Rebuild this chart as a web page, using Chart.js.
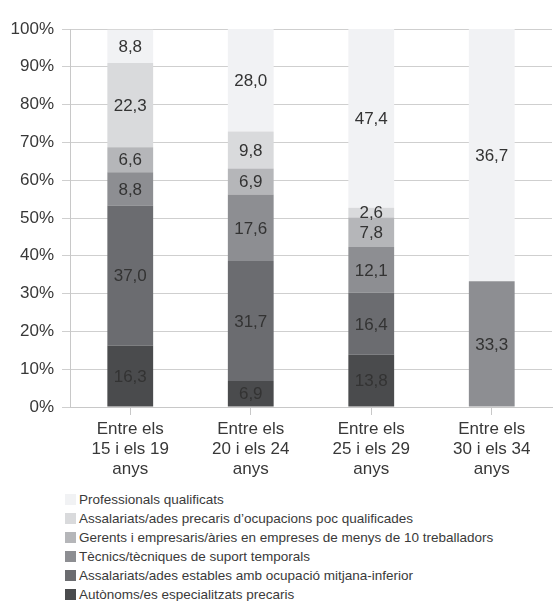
<!DOCTYPE html>
<html>
<head>
<meta charset="utf-8">
<script src="https://cdn.jsdelivr.net/npm/chart.js@4"></script>
<style>
  body { margin: 0; background: #fff; font-family: "Liberation Sans", Arial, sans-serif; }
  #wrap { position: relative; width: 553px; height: 601px; }
  #legend { position: absolute; left: 65px; top: 490px; font-size: 13.5px; color: #3a3a3a; }
  #legend div { height: 19px; line-height: 19px; white-space: nowrap; }
  #legend span { display: inline-block; width: 11px; height: 11px; margin-right: 3px; vertical-align: -1px; }
</style>
</head>
<body>
<div id="wrap">
  <canvas id="grafic" width="553" height="480"></canvas>
  <div id="legend"></div>
</div>
<script>
// categories (age groups), each label split in lines
const categories = [
    ['Entre els', '15 i els 19', 'anys'],
    ['Entre els', '20 i els 24', 'anys'],
    ['Entre els', '25 i els 29', 'anys'],
    ['Entre els', '30 i els 34', 'anys']
];

// series, from bottom to top of the stack
const autonoms = [16.3, 6.9, 13.8, null];
const estables = [37.0, 31.7, 16.4, null];
const tecnics = [8.8, 17.6, 12.1, 33.3];
const gerents = [6.6, 6.9, 7.8, null];
const precaris = [22.3, 9.8, 2.6, null];
const professionals = [8.8, 28.0, 47.4, 66.7];

// text printed on each segment (as in the original figure)
const textProfessionals = ['8,8', '28,0', '47,4', '36,7'];

const yTicks = [0, 10, 20, 30, 40, 50, 60, 70, 80, 90, 100];

const colors = ['#4a4b4d', '#6b6c70', '#8d8e92', '#b5b6b9', '#d9dadc', '#f1f2f4'];

function fmt(v) {
    return v.toFixed(1).replace('.', ',');
}

const series = [
    { label: 'Autònoms/es especialitzats precaris', data: autonoms },
    { label: 'Assalariats/ades estables amb ocupació mitjana-inferior', data: estables },
    { label: 'Tècnics/tècniques de suport temporals', data: tecnics },
    { label: 'Gerents i empresaris/àries en empreses de menys de 10 treballadors', data: gerents },
    { label: 'Assalariats/ades precaris d\u2019ocupacions poc qualificades', data: precaris },
    { label: 'Professionals qualificats', data: professionals, texts: textProfessionals }
];

// draws the value in the middle of every segment
const segmentLabels = {
    id: 'segmentLabels',
    afterDatasetsDraw(chart) {
        const ctx = chart.ctx;
        const area = chart.chartArea;
        ctx.save();
        ctx.font = '17px "Liberation Sans", Arial, sans-serif';
        ctx.fillStyle = '#333';
        ctx.textAlign = 'center';
        ctx.textBaseline = 'middle';
        chart.data.datasets.forEach((ds, i) => {
            const meta = chart.getDatasetMeta(i);
            meta.data.forEach((bar, j) => {
                const v = ds.data[j];
                if (v == null) return;
                const top = Math.max(bar.y, area.top);
                const y = (top + bar.base) / 2;
                const txt = ds.texts ? ds.texts[j] : fmt(v);
                ctx.fillText(txt, bar.x, y + 1);
            });
        });
        ctx.restore();
    }
};

const ctx = document.getElementById('grafic').getContext('2d');
const myChart = new Chart(ctx, {
    type: 'bar',
    data: {
        labels: categories,
        datasets: series.map((s, i) => ({
            label: s.label,
            data: s.data,
            texts: s.texts,
            backgroundColor: colors[i],
            borderWidth: 0,
            barPercentage: 0.38,
            categoryPercentage: 1
        }))
    },
    options: {
        responsive: false,
        animation: false,
        layout: { padding: { top: 29, right: 1, left: 0, bottom: 0 } },
        scales: {
            x: {
                stacked: true,
                grid: { display: true, offset: false, drawOnChartArea: false, drawTicks: true, tickLength: 8, color: '#c8c8c8' },
                border: { color: '#c8c8c8' },
                ticks: {
                    color: '#383838',
                    font: { family: '"Liberation Sans", Arial, sans-serif', size: 17, lineHeight: 1.18 },
                    padding: 4,
                    maxRotation: 0
                },
                afterFit(scale) { scale.height = 73; }
            },
            y: {
                stacked: true,
                min: 0,
                max: 100,
                afterBuildTicks(scale) { scale.ticks = yTicks.map(v => ({ value: v })); },
                grid: { color: '#cfcfcf', tickLength: 8 },
                border: { color: '#c8c8c8' },
                ticks: {
                    color: '#383838',
                    font: { family: '"Liberation Sans", Arial, sans-serif', size: 17 },
                    padding: 8,
                    callback: v => v + '%'
                },
                afterFit(scale) { scale.width = 70; }
            }
        },
        plugins: {
            legend: { display: false },
            tooltip: { enabled: false }
        }
    },
    plugins: [segmentLabels]
});

// legend in reverse order (top of the stack first)
document.getElementById('legend').innerHTML = series
    .map((s, i) => `<div><span style="background:${colors[i]}"></span>${s.label}</div>`)
    .reverse()
    .join('');
</script>
</body>
</html>
